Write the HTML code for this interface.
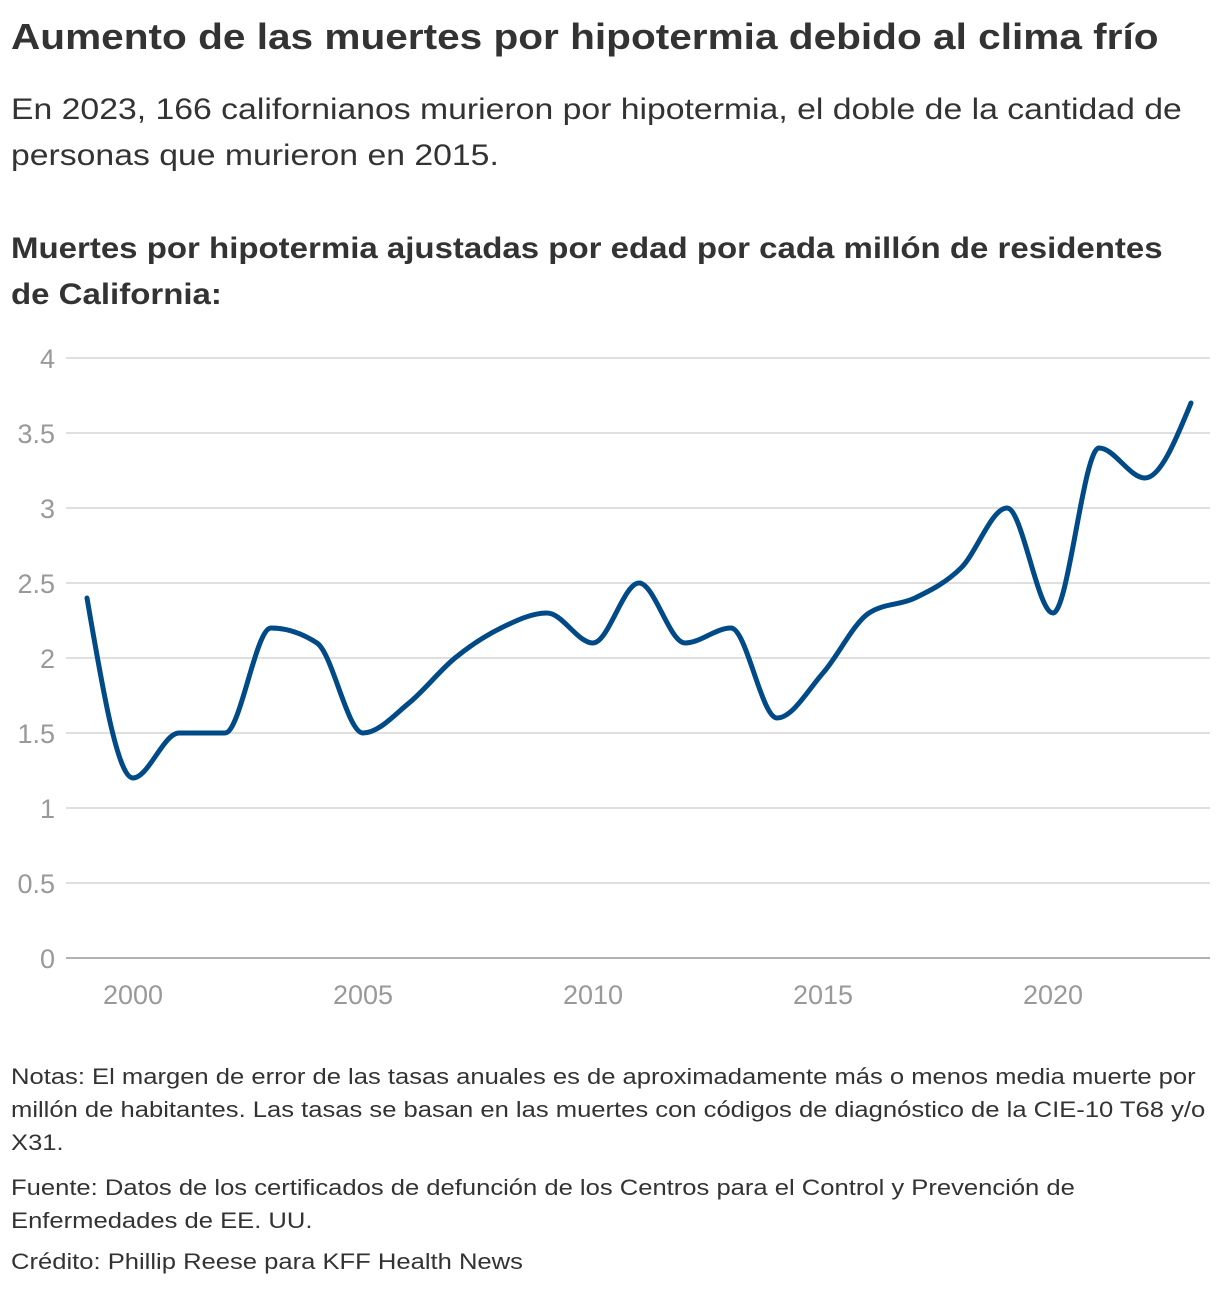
<!DOCTYPE html>
<html><head><meta charset="utf-8"><style>
body{margin:0;background:#fff;width:1220px;height:1290px;overflow:hidden;font-family:"Liberation Sans",sans-serif;color:#333}
.t{position:absolute;left:11px;white-space:nowrap;transform-origin:0 0}
</style></head><body>
<div class="t" style="top:16px;font-size:36px;font-weight:bold;color:#333;transform:scaleX(1.127)">Aumento de las muertes por hipotermia debido al clima frío</div>
<div class="t" style="top:87px;font-size:30px;line-height:46px;color:#333;transform:scaleX(1.125)">En 2023, 166 californianos murieron por hipotermia, el doble de la cantidad de<br>personas que murieron en 2015.</div>
<div class="t" style="top:226px;font-size:30px;font-weight:bold;line-height:46px;color:#333;transform:scaleX(1.10)">Muertes por hipotermia ajustadas por edad por cada millón de residentes<br>de California:</div>
<svg id="c" style="position:absolute;left:0;top:0" width="1220" height="1040"></svg>
<div class="t" style="top:1060px;font-size:22px;line-height:33px;color:#333;transform:scaleX(1.163)">Notas: El margen de error de las tasas anuales es de aproximadamente más o menos media muerte por<br>millón de habitantes. Las tasas se basan en las muertes con códigos de diagnóstico de la CIE-10 T68 y/o<br>X31.</div>
<div class="t" style="top:1171px;font-size:22px;line-height:33px;color:#333;transform:scaleX(1.163)">Fuente: Datos de los certificados de defunción de los Centros para el Control y Prevención de<br>Enfermedades de EE. UU.</div>
<div class="t" style="top:1245px;font-size:22px;line-height:33px;color:#333;transform:scaleX(1.163)">Crédito: Phillip Reese para KFF Health News</div>
<script>
const years=[1999,2000,2001,2002,2003,2004,2005,2006,2007,2008,2009,2010,2011,2012,2013,2014,2015,2016,2017,2018,2019,2020,2021,2022,2023];
const rates=[2.4,1.2,1.5,1.5,2.2,2.1,1.5,1.7,2.0,2.2,2.3,2.1,2.5,2.1,2.2,1.6,1.9,2.3,2.4,2.6,3.0,2.3,3.4,3.2,3.7];
const yTicks=[0,0.5,1,1.5,2,2.5,3,3.5,4];
const yTickLabels=["0","0.5","1","1.5","2","2.5","3","3.5","4"];
const xTicks=[2000,2005,2010,2015,2020];
const NS="http://www.w3.org/2000/svg";
const svg=document.getElementById('c');
const x=v=>87+(v-1999)*46;
const y=v=>958-v*150;
function mk(t,a){const e=document.createElementNS(NS,t);for(const k in a)e.setAttribute(k,a[k]);svg.appendChild(e);return e;}
yTicks.forEach((v,i)=>{
 const l=mk('line',{x1:66,x2:1210,y1:y(v),y2:y(v),stroke:v===0?'#999':'#ccc','stroke-width':v===0?1.5:1.2});
 
 
 const t=mk('text',{x:55,y:y(v)+10,'text-anchor':'end','font-size':27,fill:'#999','font-family':'Liberation Sans,sans-serif'});
 t.textContent=yTickLabels[i];
 
 
});
xTicks.forEach(v=>{
 const t=mk('text',{x:x(v),y:1004,'text-anchor':'middle','font-size':27,fill:'#999','font-family':'Liberation Sans,sans-serif'});
 t.textContent=v;
 
 
});
const px=years.map(x),py=rates.map(y),n=px.length;
const m=[],s=[];
for(let i=0;i<n-1;i++)s.push((py[i+1]-py[i])/(px[i+1]-px[i]));
for(let i=0;i<n;i++){
 if(i===0)m.push(s[0]);else if(i===n-1)m.push(s[n-2]);
 else{const a=s[i-1],b=s[i];if(a*b<=0)m.push(0);else{const h0=px[i]-px[i-1],h1=px[i+1]-px[i];const p=(a*h1+b*h0)/(h0+h1);m.push((Math.sign(a)+Math.sign(b))*Math.min(Math.abs(a),Math.abs(b),0.5*Math.abs(p)));}}
}
m[0]=(3*s[0]-m[1])/2;m[n-1]=(3*s[n-2]-m[n-2])/2;
let d=`M${px[0]},${py[0]}`;
for(let i=0;i<n-1;i++){const h=(px[i+1]-px[i])/3;d+=`C${px[i]+h},${py[i]+h*m[i]} ${px[i+1]-h},${py[i+1]-h*m[i+1]} ${px[i+1]},${py[i+1]}`;}
const p=mk('path',{d,fill:'none',stroke:'#004b87','stroke-width':5,'stroke-linecap':'round','stroke-linejoin':'round'});


</script>
</body></html>
